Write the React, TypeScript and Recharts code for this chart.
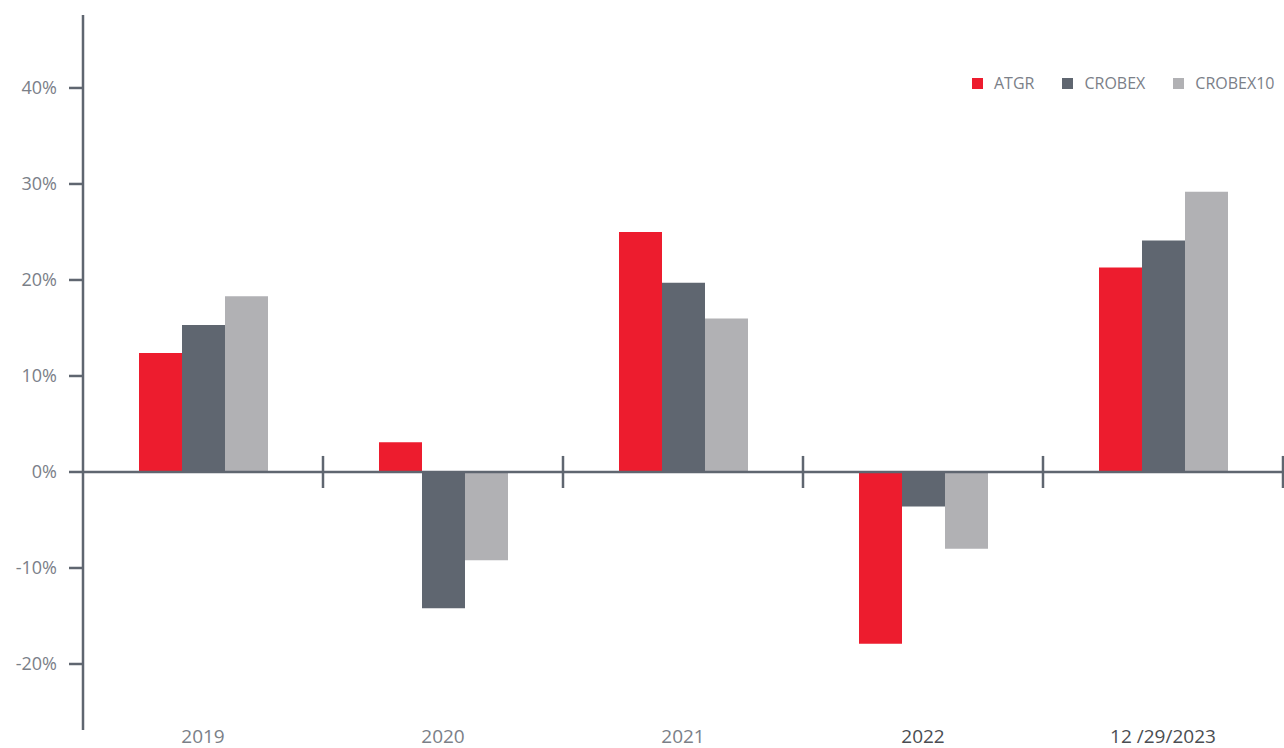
import React from 'react';
import { BarChart, Bar, XAxis, YAxis, ReferenceLine, Legend } from 'recharts';

// categories and yearly returns (%)
const years = ['2019', '2020', '2021', '2022', '12 /29/2023'];
const atgr = [12.4, 3.1, 25.0, -17.9, 21.3];
const crobex = [15.3, -14.2, 19.7, -3.6, 24.1];
const crobex10 = [18.3, -9.2, 16.0, -8.0, 29.2];
const yTicks = [-20, -10, 0, 10, 20, 30, 40];

const AXIS = '#5f6670';
const FONT = '"Open Sans", sans-serif';

const series = [
    { key: 'atgr', name: 'ATGR', color: '#ed1c2e' },
    { key: 'crobex', name: 'CROBEX', color: '#5f6670' },
    { key: 'crobex10', name: 'CROBEX10', color: '#b1b1b4' },
];

const data = years.map((year, i) => ({
    year: year,
    atgr: atgr[i],
    crobex: crobex[i],
    crobex10: crobex10[i],
}));

// short marks on the zero line between categories (and after the last one)
const dividers = [
    ...years.slice(1).map((y) => ({ year: y, position: 'start' })),
    { year: years[years.length - 1], position: 'end' },
];

const YearTick = (props: any) => {
    const { x, y, payload, index } = props;
    const dark = index >= 3;
    return (
        <text
            x={x}
            y={y}
            dy="0.71em"
            textAnchor="middle"
            fill={dark ? '#4a4d52' : '#7b8088'}
            fontSize={19}
            fontFamily={FONT}
        >
            {payload.value}
        </text>
    );
};

const LegendBox = () => (
    <div style={{ display: 'flex', alignItems: 'center', fontFamily: FONT, fontSize: 16, color: '#7b8088' }}>
        {series.map((s, i) => (
            <div key={s.key} style={{ display: 'flex', alignItems: 'center', marginLeft: i === 0 ? 0 : 28 }}>
                <span style={{ display: 'inline-block', width: 11, height: 11, background: s.color, marginRight: 11 }} />
                <span>{s.name}</span>
            </div>
        ))}
    </div>
);

export default function App() {
    return (
        <div style={{ position: 'absolute', left: 0, top: 0, background: '#fff', fontFamily: FONT }}>
            <BarChart
                width={1284}
                height={748}
                data={data}
                margin={{ top: 15, right: 1, bottom: 0, left: 0 }}
                barCategoryGap={56}
                barGap={0}
            >
                <XAxis
                    dataKey="year"
                    height={18}
                    tickLine={false}
                    axisLine={false}
                    tickSize={0}
                    tickMargin={0}
                    interval={0}
                    tick={<YearTick />}
                />
                <YAxis
                    width={83}
                    domain={[-26.875, 47.6]}
                    ticks={yTicks}
                    interval={0}
                    tickFormatter={(v) => v + '%'}
                    tickSize={14}
                    tickMargin={12}
                    axisLine={{ stroke: AXIS, strokeWidth: 2.5 }}
                    tickLine={{ stroke: AXIS, strokeWidth: 2.5 }}
                    tick={{ fill: '#7b8088', fontSize: 18, fontFamily: FONT }}
                />
                <Legend
                    layout="vertical"
                    align="center"
                    verticalAlign="middle"
                    wrapperStyle={{ top: 72, left: 972, width: 312 }}
                    content={<LegendBox />}
                />
                {series.map((s) => (
                    <Bar key={s.key} dataKey={s.key} name={s.name} fill={s.color} isAnimationActive={false} />
                ))}
                <ReferenceLine y={0} stroke={AXIS} strokeWidth={2.5} />
                {dividers.map((d, i) => (
                    <ReferenceLine
                        key={i}
                        position={d.position as any}
                        ifOverflow="visible"
                        segment={[{ x: d.year, y: -1.67 }, { x: d.year, y: 1.67 }]}
                        stroke={AXIS}
                        strokeWidth={2.5}
                    />
                ))}
            </BarChart>
        </div>
    );
}
